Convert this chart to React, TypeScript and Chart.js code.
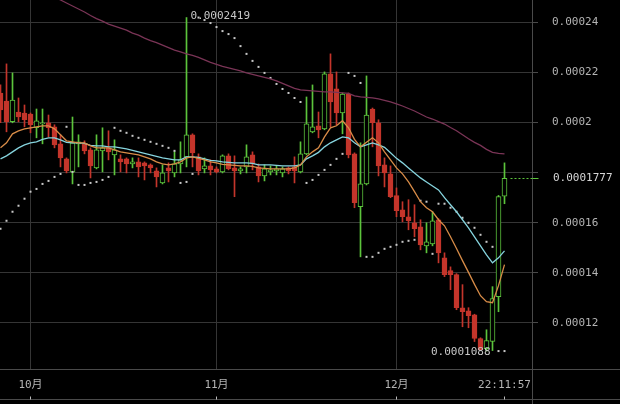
import { useEffect, useRef } from 'react';
import { Chart, registerables } from 'chart.js';

Chart.register(...registerables);

// ---- data (daily candles, index 0 = first visible day) ----
const openPrices = [0.0002118,0.0002086,0.0002003,0.0002042,0.0002038,0.0002034,0.0001979,0.0001995,0.0001999,0.0001983,
0.0001915,0.0001855,0.0001803,0.0001915,0.0001915,0.0001891,0.0001819,0.0001887,0.0001899,0.0001871,
0.0001855,0.0001855,0.0001835,0.0001843,0.0001839,0.0001831,0.0001807,0.0001759,0.0001819,0.0001799,
0.0001835,0.0001863,0.0001951,0.0001863,0.0001815,0.0001827,0.0001815,0.0001803,0.0001867,0.0001819,
0.0001807,0.0001823,0.0001871,0.0001823,0.0001787,0.0001803,0.0001807,0.0001799,0.0001819,0.0001823,
0.0001803,0.0001875,0.0001963,0.0001987,0.0001975,0.0002194,0.0002134,0.0002038,0.0002114,0.0001875,
0.0001664,0.0001755,0.0002054,0.0001999,0.0001831,0.0001795,0.0001708,0.0001652,0.0001624,0.0001600,
0.0001584,0.0001508,0.0001516,0.0001612,0.0001460,0.0001409,0.0001393,0.0001261,0.0001249,0.0001233,
0.0001138,0.0001098,0.0001126,0.0001305,0.0001706];

const highPrices = [0.0002150,0.0002234,0.0002198,0.0002098,0.0002070,0.0002038,0.0002054,0.0002054,0.0002030,0.0001991,
0.0001951,0.0001859,0.0002022,0.0001951,0.0001927,0.0001899,0.0001951,0.0001979,0.0001967,0.0001931,
0.0001871,0.0001859,0.0001859,0.0001859,0.0001843,0.0001835,0.0001819,0.0001831,0.0001839,0.0001883,
0.0001923,0.0002419,0.0001955,0.0001875,0.0001859,0.0001851,0.0001823,0.0001871,0.0001875,0.0001867,
0.0001823,0.0001911,0.0001883,0.0001835,0.0001831,0.0001827,0.0001827,0.0001823,0.0001823,0.0001863,
0.0001923,0.0002102,0.0002150,0.0002042,0.0002202,0.0002274,0.0002202,0.0002118,0.0002118,0.0001879,
0.0001919,0.0002186,0.0002058,0.0002011,0.0001859,0.0001827,0.0001739,0.0001684,0.0001692,0.0001672,
0.0001612,0.0001600,0.0001644,0.0001616,0.0001480,0.0001424,0.0001397,0.0001353,0.0001261,0.0001235,
0.0001141,0.0001173,0.0001345,0.0001709,0.0001839];

const lowPrices = [0.0001999,0.0001963,0.0001999,0.0002003,0.0001983,0.0001959,0.0001939,0.0001915,0.0001943,0.0001899,
0.0001823,0.0001799,0.0001755,0.0001823,0.0001875,0.0001779,0.0001815,0.0001803,0.0001851,0.0001791,
0.0001803,0.0001799,0.0001819,0.0001783,0.0001771,0.0001799,0.0001743,0.0001755,0.0001763,0.0001783,
0.0001799,0.0001823,0.0001823,0.0001791,0.0001799,0.0001791,0.0001799,0.0001799,0.0001811,0.0001704,
0.0001795,0.0001799,0.0001811,0.0001763,0.0001767,0.0001791,0.0001791,0.0001783,0.0001795,0.0001759,
0.0001799,0.0001871,0.0001959,0.0001939,0.0001971,0.0001983,0.0001991,0.0001955,0.0001859,0.0001660,
0.0001464,0.0001751,0.0001903,0.0001787,0.0001743,0.0001700,0.0001624,0.0001604,0.0001572,0.0001544,
0.0001492,0.0001480,0.0001508,0.0001440,0.0001385,0.0001333,0.0001253,0.0001185,0.0001181,0.0001126,
0.0001090,0.0001088,0.0001090,0.0001245,0.0001676];

const closePrices = [0.0002050,0.0002003,0.0002090,0.0002022,0.0002011,0.0001991,0.0002007,0.0001999,0.0001979,0.0001911,
0.0001859,0.0001807,0.0001919,0.0001923,0.0001887,0.0001827,0.0001891,0.0001899,0.0001883,0.0001891,
0.0001843,0.0001835,0.0001843,0.0001823,0.0001827,0.0001819,0.0001783,0.0001799,0.0001807,0.0001835,
0.0001851,0.0001951,0.0001879,0.0001807,0.0001827,0.0001811,0.0001803,0.0001867,0.0001815,0.0001807,
0.0001815,0.0001863,0.0001835,0.0001787,0.0001815,0.0001811,0.0001815,0.0001815,0.0001807,0.0001807,
0.0001875,0.0001995,0.0001983,0.0001971,0.0002194,0.0002082,0.0002038,0.0002114,0.0001871,0.0001680,
0.0001755,0.0002030,0.0001999,0.0001827,0.0001799,0.0001704,0.0001648,0.0001624,0.0001608,0.0001576,
0.0001512,0.0001524,0.0001608,0.0001480,0.0001393,0.0001393,0.0001261,0.0001245,0.0001229,0.0001138,
0.0001094,0.0001130,0.0001297,0.0001704,0.0001777];

const maShort = [0.0001899,0.0001919,0.0001955,0.0001967,0.0001975,0.0001979,0.0001983,0.0001987,0.0001987,0.0001975,
0.0001951,0.0001927,0.0001923,0.0001919,0.0001919,0.0001907,0.0001899,0.0001899,0.0001899,0.0001891,
0.0001883,0.0001879,0.0001875,0.0001871,0.0001863,0.0001855,0.0001843,0.0001835,0.0001831,0.0001835,
0.0001843,0.0001859,0.0001863,0.0001857,0.0001851,0.0001843,0.0001839,0.0001833,0.0001831,0.0001829,
0.0001827,0.0001827,0.0001825,0.0001819,0.0001817,0.0001815,0.0001815,0.0001815,0.0001815,0.0001819,
0.0001831,0.0001863,0.0001883,0.0001899,0.0001943,0.0001979,0.0001987,0.0002007,0.0001979,0.0001933,
0.0001903,0.0001921,0.0001939,0.0001919,0.0001883,0.0001851,0.0001819,0.0001795,0.0001763,0.0001724,
0.0001684,0.0001660,0.0001644,0.0001612,0.0001588,0.0001544,0.0001497,0.0001449,0.0001402,0.0001354,
0.0001309,0.0001285,0.0001281,0.0001349,0.0001433];

const maMid = [0.0001855,0.0001867,0.0001883,0.0001899,0.0001911,0.0001919,0.0001923,0.0001933,0.0001939,0.0001939,
0.0001931,0.0001921,0.0001919,0.0001919,0.0001917,0.0001909,0.0001907,0.0001907,0.0001903,0.0001903,
0.0001899,0.0001895,0.0001889,0.0001883,0.0001877,0.0001871,0.0001865,0.0001859,0.0001855,0.0001851,
0.0001851,0.0001863,0.0001863,0.0001861,0.0001855,0.0001849,0.0001847,0.0001843,0.0001841,0.0001839,
0.0001839,0.0001839,0.0001837,0.0001831,0.0001831,0.0001831,0.0001829,0.0001827,0.0001827,0.0001827,
0.0001831,0.0001855,0.0001867,0.0001881,0.0001903,0.0001919,0.0001931,0.0001943,0.0001939,0.0001919,
0.0001903,0.0001911,0.0001919,0.0001911,0.0001901,0.0001879,0.0001857,0.0001839,0.0001819,0.0001799,
0.0001779,0.0001763,0.0001747,0.0001731,0.0001700,0.0001672,0.0001644,0.0001612,0.0001580,0.0001544,
0.0001508,0.0001472,0.0001440,0.0001460,0.0001488];

const maLong = [0.0002609,0.0002597,0.0002585,0.0002573,0.0002561,0.0002549,0.0002537,0.0002525,0.0002513,0.0002501,
0.0002489,0.0002477,0.0002465,0.0002453,0.0002441,0.0002427,0.0002415,0.0002405,0.0002393,0.0002385,
0.0002377,0.0002369,0.0002357,0.0002349,0.0002337,0.0002327,0.0002319,0.0002309,0.0002299,0.0002289,
0.0002282,0.0002274,0.0002268,0.0002260,0.0002250,0.0002240,0.0002232,0.0002224,0.0002218,0.0002212,
0.0002206,0.0002198,0.0002192,0.0002186,0.0002180,0.0002174,0.0002166,0.0002156,0.0002146,0.0002136,
0.0002130,0.0002128,0.0002126,0.0002124,0.0002122,0.0002122,0.0002120,0.0002118,0.0002116,0.0002106,
0.0002102,0.0002100,0.0002098,0.0002094,0.0002088,0.0002082,0.0002074,0.0002066,0.0002056,0.0002046,
0.0002034,0.0002022,0.0002014,0.0002004,0.0001994,0.0001980,0.0001967,0.0001951,0.0001935,0.0001921,
0.0001909,0.0001893,0.0001881,0.0001877,0.0001875];

const sarValues = [0.0001576,0.0001608,0.0001644,0.0001668,0.0001696,0.0001724,0.0001735,0.0001755,0.0001767,0.0001783,
0.0001795,0.0001983,0.0001803,0.0001751,0.0001751,0.0001759,0.0001763,0.0001771,0.0001783,0.0001979,
0.0001967,0.0001959,0.0001947,0.0001939,0.0001931,0.0001923,0.0001915,0.0001907,0.0001899,0.0001887,
0.0001759,0.0001763,0.0001795,0.0002419,0.0002409,0.0002397,0.0002381,0.0002365,0.0002353,0.0002337,
0.0002305,0.0002274,0.0002246,0.0002222,0.0002198,0.0002178,0.0002154,0.0002134,0.0002118,0.0002098,
0.0002082,0.0001759,0.0001771,0.0001791,0.0001811,0.0001831,0.0001855,0.0001875,0.0002198,0.0002186,
0.0002158,0.0001464,0.0001464,0.0001480,0.0001496,0.0001504,0.0001512,0.0001524,0.0001528,0.0001532,
0.0001688,0.0001684,0.0001476,0.0001676,0.0001676,0.0001660,0.0001644,0.0001620,0.0001600,0.0001580,
0.0001552,0.0001524,0.0001504,0.0001088,0.0001088];

const xTickValues = [5, 36, 66, 84];
const xTickLabels = ['10月', '11月', '12月', '22:11:57'];
const yTickValues = [0.00012, 0.00014, 0.00016, 0.00018, 0.0002, 0.00022, 0.00024];
const yTickLabels = ['0.00012', '0.00014', '0.00016', '', '0.0002', '0.00022', '0.00024'];
const highMarkIndex = 31;
const highMarkLabel = '0.0002419';
const lowMarkIndex = 81;
const lowMarkLabel = '0.0001088';
const lastPriceLabel = '0.0001777';

const UP = '#5cc43c';
const DOWN = '#c4352b';
const GRID = '#353535';
const AXIS = '#4a4a4a';
const TEXT = '#b4b4b4';
const FONT = "'DejaVu Sans Mono', 'Noto Sans CJK SC', monospace";

const idx = openPrices.map((_, i) => i);
const isUp = idx.map((i) => closePrices[i] >= openPrices[i]);

const decorPlugin = {
  id: 'decor',
  beforeDraw(chart: any) {
    const { ctx, width, height } = chart;
    ctx.save();
    ctx.fillStyle = '#000';
    ctx.fillRect(0, 0, width, height);
    ctx.restore();
  },
  afterDraw(chart: any) {
    const { ctx, chartArea, scales, width, height } = chart;
    const xs = scales.x;
    const ys = scales.y;
    ctx.save();
    ctx.lineWidth = 1;
    ctx.strokeStyle = AXIS;
    const bx = Math.round(chartArea.right) + 0.5;
    const by = Math.round(chartArea.bottom) + 0.5;
    const bottomLine = height - 4.5;
    ctx.beginPath();
    ctx.moveTo(0, by);
    ctx.lineTo(width, by);
    ctx.moveTo(bx, 0);
    ctx.lineTo(bx, height);
    ctx.moveTo(0, bottomLine);
    ctx.lineTo(width, bottomLine);
    ctx.stroke();

    ctx.strokeStyle = '#bdbdbd';
    ctx.beginPath();
    xTickValues.forEach((v) => {
      const px = Math.floor(xs.getPixelForValue(v)) + 0.5;
      ctx.moveTo(px, bottomLine - 3);
      ctx.lineTo(px, bottomLine);
    });
    ctx.stroke();

    ctx.font = `11px ${FONT}`;
    ctx.textBaseline = 'middle';
    // high marker
    ctx.fillStyle = '#c8c8c8';
    ctx.textAlign = 'left';
    ctx.fillText(highMarkLabel, xs.getPixelForValue(highMarkIndex) + 4, ys.getPixelForValue(highPrices[highMarkIndex]) - 1);
    // low marker
    ctx.textAlign = 'right';
    ctx.fillText(lowMarkLabel, xs.getPixelForValue(lowMarkIndex) + 4, ys.getPixelForValue(lowPrices[lowMarkIndex]) + 1);

    // last price line + label
    const last = closePrices.length - 1;
    const ly = Math.round(ys.getPixelForValue(closePrices[last])) + 0.5;
    ctx.strokeStyle = UP;
    ctx.setLineDash([2, 2]);
    ctx.beginPath();
    ctx.moveTo(xs.getPixelForValue(last) + 6, ly);
    ctx.lineTo(bx, ly);
    ctx.stroke();
    ctx.setLineDash([]);
    ctx.beginPath();
    ctx.moveTo(bx, ly);
    ctx.lineTo(bx + 6, ly);
    ctx.stroke();
    ctx.fillStyle = '#d6d6d6';
    ctx.textAlign = 'left';
    ctx.fillText(lastPriceLabel, bx + 20.5, ly);
    ctx.restore();
  },
};

export default function App() {
  const ref = useRef<HTMLCanvasElement | null>(null);

  useEffect(() => {
    document.body.style.margin = '0';
    document.body.style.background = '#000';
    const canvas = ref.current;
    if (!canvas) return;

    const wickData = idx.map((i) => ({ x: i, y: [lowPrices[i], highPrices[i]] }));
    const bodyData = idx.map((i) => ({ x: i, y: [openPrices[i], closePrices[i]] }));
    const pts = (arr: number[]) => arr.map((v, i) => ({ x: i, y: v }));
    const colors = isUp.map((u) => (u ? UP : DOWN));

    const chart = new Chart(canvas, {
      type: 'bar',
      data: {
        datasets: [
          {
            type: 'line',
            data: pts(maShort),
            borderColor: '#d88c48',
            borderWidth: 1.3,
            pointRadius: 0,
            tension: 0,
            order: 0,
          } as any,
          {
            type: 'line',
            data: pts(maMid),
            borderColor: '#86d4de',
            borderWidth: 1.3,
            pointRadius: 0,
            tension: 0,
            order: 0,
          } as any,
          {
            type: 'line',
            data: pts(maLong),
            borderColor: '#7a3456',
            borderWidth: 1.3,
            pointRadius: 0,
            tension: 0,
            order: 0,
          } as any,
          {
            type: 'line',
            data: pts(sarValues),
            showLine: false,
            pointStyle: 'rect',
            pointRadius: 1.42,
            pointBorderWidth: 0,
            pointBackgroundColor: '#c8c8c8',
            borderColor: '#c8c8c8',
            order: 1,
          } as any,
          {
            type: 'bar',
            data: bodyData,
            backgroundColor: isUp.map((u) => (u ? '#000000' : DOWN)),
            borderColor: colors,
            borderWidth: 1,
            borderSkipped: false,
            barThickness: 5,
            grouped: false,
            order: 2,
          } as any,
          {
            type: 'bar',
            data: wickData,
            backgroundColor: colors,
            borderWidth: 0,
            barThickness: 1,
            grouped: false,
            order: 3,
          } as any,
        ],
      },
      options: {
        animation: false,
        responsive: false,
        maintainAspectRatio: false,
        devicePixelRatio: 1,
        layout: { padding: 0, autoPadding: false },
        events: [],
        plugins: { legend: { display: false }, tooltip: { enabled: false } },
        scales: {
          x: {
            type: 'linear',
            min: -1 / 12,
            max: -1 / 12 + 532 / 6,
            offset: false,
            border: { display: false },
            grid: {
              offset: false,
              drawTicks: false,
              color: (c: any) => (c.tick && c.tick.value === 84 ? 'rgba(0,0,0,0)' : GRID),
            },
            afterBuildTicks: (s: any) => {
              s.ticks = xTickValues.map((v) => ({ value: v }));
            },
            afterFit: (s: any) => {
              s.height = 35;
              s.paddingLeft = 0;
              s.paddingRight = 0;
              s.paddingTop = 0;
              s.paddingBottom = 0;
            },
            ticks: {
              autoSkip: false,
              maxRotation: 0,
              padding: 10,
              color: TEXT,
              font: { family: FONT, size: 11 },
              callback: (v: any) => {
                const k = xTickValues.indexOf(Number(v));
                return k >= 0 ? xTickLabels[k] : '';
              },
            },
          },
          y: {
            type: 'linear',
            position: 'right',
            min: 0.00010164,
            max: 0.0002489,
            border: { display: false },
            grid: { color: GRID, tickColor: AXIS, tickLength: 6 },
            afterBuildTicks: (s: any) => {
              s.ticks = yTickValues.map((v) => ({ value: v }));
            },
            afterFit: (s: any) => {
              s.width = 88;
              s.paddingLeft = 0;
              s.paddingRight = 0;
              s.paddingTop = 0;
              s.paddingBottom = 0;
            },
            ticks: {
              padding: 14,
              color: TEXT,
              font: { family: FONT, size: 11 },
              callback: (v: any) => {
                const k = yTickValues.findIndex((t) => Math.abs(t - Number(v)) < 1e-9);
                return k >= 0 ? yTickLabels[k] : '';
              },
            },
          },
        },
      } as any,
      plugins: [decorPlugin],
    });

    return () => chart.destroy();
  }, []);

  return (
    <div style={{ width: 620, height: 404, background: '#000' }}>
      <canvas ref={ref} width={620} height={404} style={{ display: 'block', width: 620, height: 404 }} />
    </div>
  );
}
